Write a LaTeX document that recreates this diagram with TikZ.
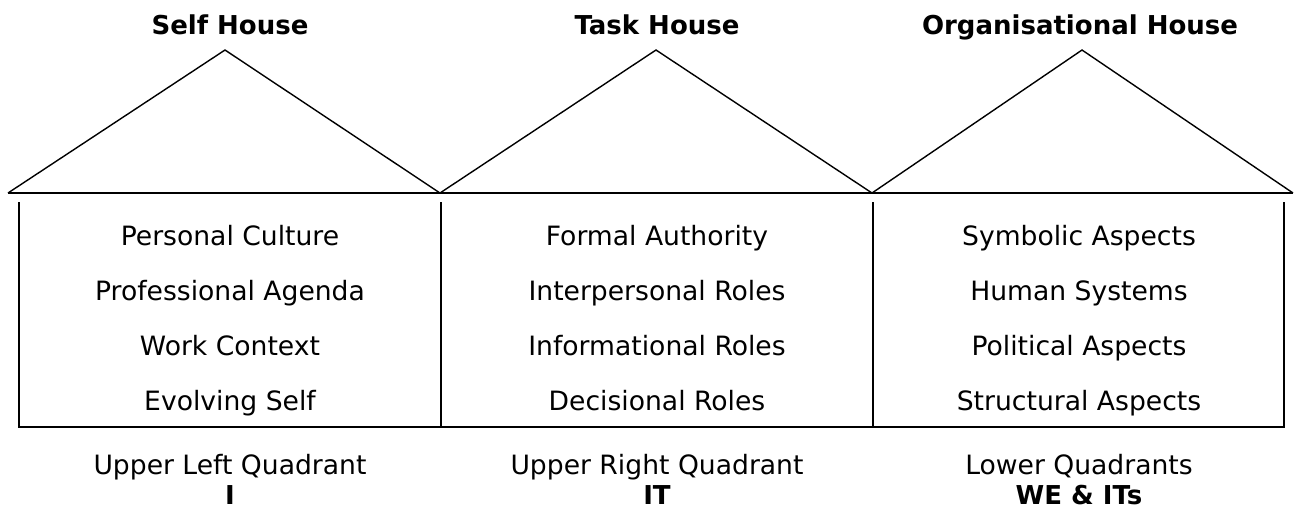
\documentclass[tikz,border=0pt]{standalone}
\usepackage{fontspec}
\setmainfont{DejaVu Sans}
\usetikzlibrary{positioning}
\tikzset{every picture/.append style={thick}}
\tikzset{
    housetitle/.style={font=\fontsize{13}{15}\selectfont\bfseries, inner sep=0pt, text height=0.73em, text depth=0pt},
    roomlabel/.style={font=\fontsize{13.3}{15}\selectfont, inner sep=0pt, text height=0.73em, text depth=0pt},
    quadlabel/.style={font=\fontsize{13}{15}\selectfont\bfseries, inner sep=0pt, text height=0.73em, text depth=0pt},
}

\begin{document}
\begin{tikzpicture}[x=0.5pt, y=-0.5pt]
    \useasboundingbox (0,0) rectangle (1295,511);

    % ---------------- ROOFS ---------------- %
    \draw[line width=0.7pt] (8,193) -- (225,50) -- (440,193) -- (656,50) -- (872,193) -- (1082,50) -- (1293,193);
    \draw[line width=1pt] (8,193) -- (1293,193);

    % ---------------- WALLS ---------------- %
    \draw[line width=1pt] (19,202) -- (19,427) -- (1284,427) -- (1284,202);
    \draw[line width=1pt] (441,202) -- (441,427);
    \draw[line width=1pt] (873,202) -- (873,427);

    % Titles
    \node[housetitle] (selfhouse) at (230,27) {Self House};
    \node[housetitle] (taskhouse) at (657,27) {Task House};
    \node[housetitle] (orghouse) at (1080,27) {Organisational House};

    % Self house rooms
    \node[roomlabel] (self1) at (230,238) {Personal Culture};
    \node[roomlabel] (self2) at (230,293) {Professional Agenda};
    \node[roomlabel] (self3) at (230,348) {Work Context};
    \node[roomlabel] (self4) at (230,403) {Evolving Self};

    % Task house rooms
    \node[roomlabel] (task1) at (657,238) {Formal Authority};
    \node[roomlabel] (task2) at (657,293) {Interpersonal Roles};
    \node[roomlabel] (task3) at (657,348) {Informational Roles};
    \node[roomlabel] (task4) at (657,403) {Decisional Roles};

    % Organisational house rooms
    \node[roomlabel] (org1) at (1079,238) {Symbolic Aspects};
    \node[roomlabel] (org2) at (1079,293) {Human Systems};
    \node[roomlabel] (org3) at (1079,348) {Political Aspects};
    \node[roomlabel] (org4) at (1079,403) {Structural Aspects};

    % Quadrants under each house
    \node[roomlabel] (selfquad) at (230,467) {Upper Left Quadrant};
    \node[roomlabel] (taskquad) at (657,467) {Upper Right Quadrant};
    \node[roomlabel] (orgquad) at (1079,467) {Lower Quadrants};
    \node[quadlabel] (selfterm) at (230,497) {I};
    \node[quadlabel] (taskterm) at (657,497) {IT};
    \node[quadlabel] (orgterm) at (1079,497) {WE \& ITs};
\end{tikzpicture}
\end{document}
